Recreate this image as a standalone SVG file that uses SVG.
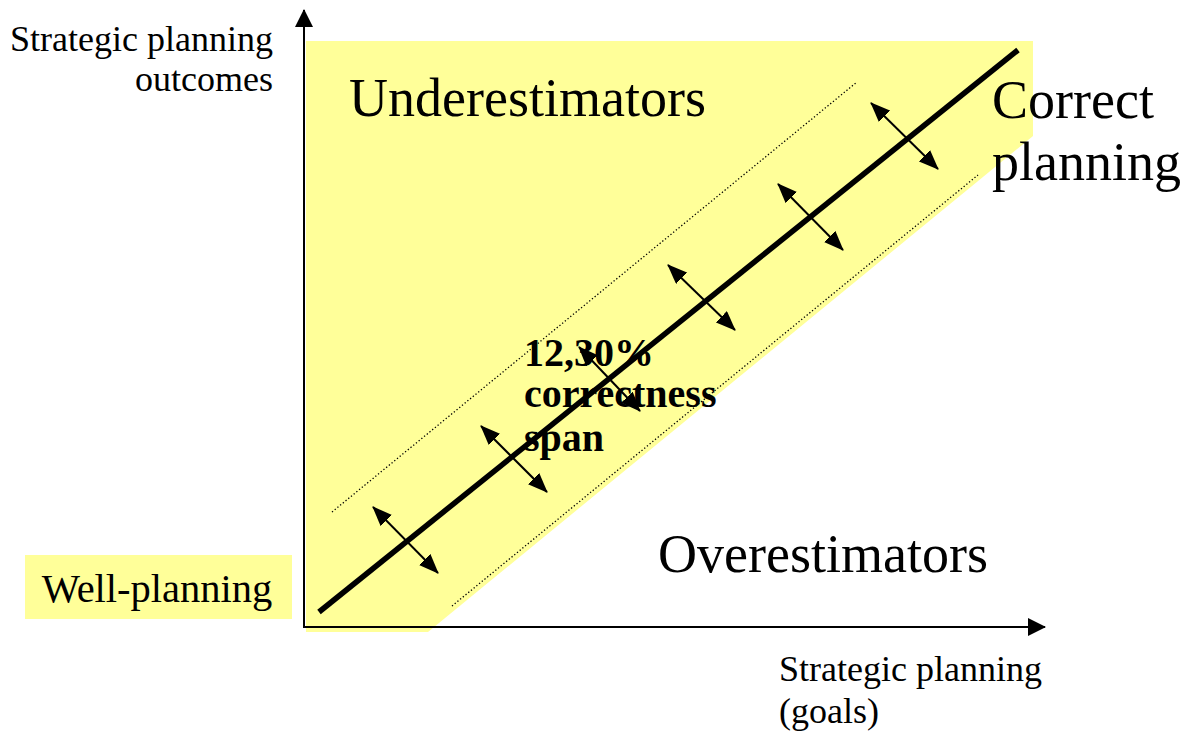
<svg xmlns="http://www.w3.org/2000/svg" width="1190" height="731" viewBox="0 0 1190 731">
<style>
.t{font-family:"Liberation Serif","Times New Roman",serif;fill:#000}
.big{font-size:54px}
.mid{font-size:36px}
.wp{font-size:40.5px}
.bold{font-size:40px;font-weight:bold}
.dot{stroke:#000;stroke-width:1.3;stroke-dasharray:1.3 2.2;fill:none}
.dbl{stroke:#000;stroke-width:2;fill:none;marker-start:url(#ah);marker-end:url(#ah)}
</style>
<defs>
<marker id="ah" viewBox="0 0 20 16" refX="19" refY="8" markerWidth="20" markerHeight="16" markerUnits="userSpaceOnUse" orient="auto-start-reverse">
<path d="M0,0 L20,8 L0,16 z" fill="#000"/>
</marker>
<marker id="axh" viewBox="0 0 18 18" refX="17" refY="9" markerWidth="18" markerHeight="18" markerUnits="userSpaceOnUse" orient="auto">
<path d="M0,0 L18,9 L0,18 z" fill="#000"/>
</marker>
</defs>
<rect width="1190" height="731" fill="#fff"/>
<g id="region">
<polygon points="306,41 1033,41 1033,136 428,632 306,632" fill="#ffff99"/>
</g>
<g id="well-planning">
<rect x="25" y="555" width="267" height="64" fill="#ffff99"/>
<text class="t wp" x="157" y="602" text-anchor="middle">Well-planning</text>
</g>
<g id="axes">
<line x1="304" y1="628" x2="304" y2="10" stroke="#000" stroke-width="2" marker-end="url(#axh)"/>
<line x1="303" y1="627" x2="1045" y2="627" stroke="#000" stroke-width="2" marker-end="url(#axh)"/>
</g>
<g id="connectors">
<line class="dot" x1="332" y1="512" x2="857" y2="82"/>
<line class="dot" x1="452" y1="606" x2="978" y2="175"/>
<line x1="319" y1="612" x2="1018" y2="50" stroke="#000" stroke-width="5.5"/>
<line class="dbl" x1="373" y1="507" x2="438" y2="573"/>
<line class="dbl" x1="481" y1="426" x2="547" y2="492"/>
<line class="dbl" x1="579" y1="347" x2="640" y2="411"/>
<line class="dbl" x1="668" y1="265" x2="735" y2="330"/>
<line class="dbl" x1="778" y1="184" x2="843" y2="250"/>
<line class="dbl" x1="871" y1="103" x2="938" y2="169"/>
</g>
<g id="labels">
<text class="t mid" x="273" y="51" text-anchor="end">Strategic planning</text>
<text class="t mid" x="273" y="91" text-anchor="end">outcomes</text>
<text class="t big" x="349" y="116">Underestimators</text>
<text class="t big" x="992" y="118">Correct</text>
<text class="t big" x="992" y="180">planning</text>
<text class="t big" x="658" y="572">Overestimators</text>
<text class="t mid" x="779" y="681">Strategic planning</text>
<text class="t mid" x="779" y="723">(goals)</text>
</g>
<g id="span-label">
<text class="t bold" x="524" y="366">12,30%</text>
<text class="t bold" x="524" y="407">correctness</text>
<text class="t bold" x="524" y="451">span</text>
</g>
</svg>
